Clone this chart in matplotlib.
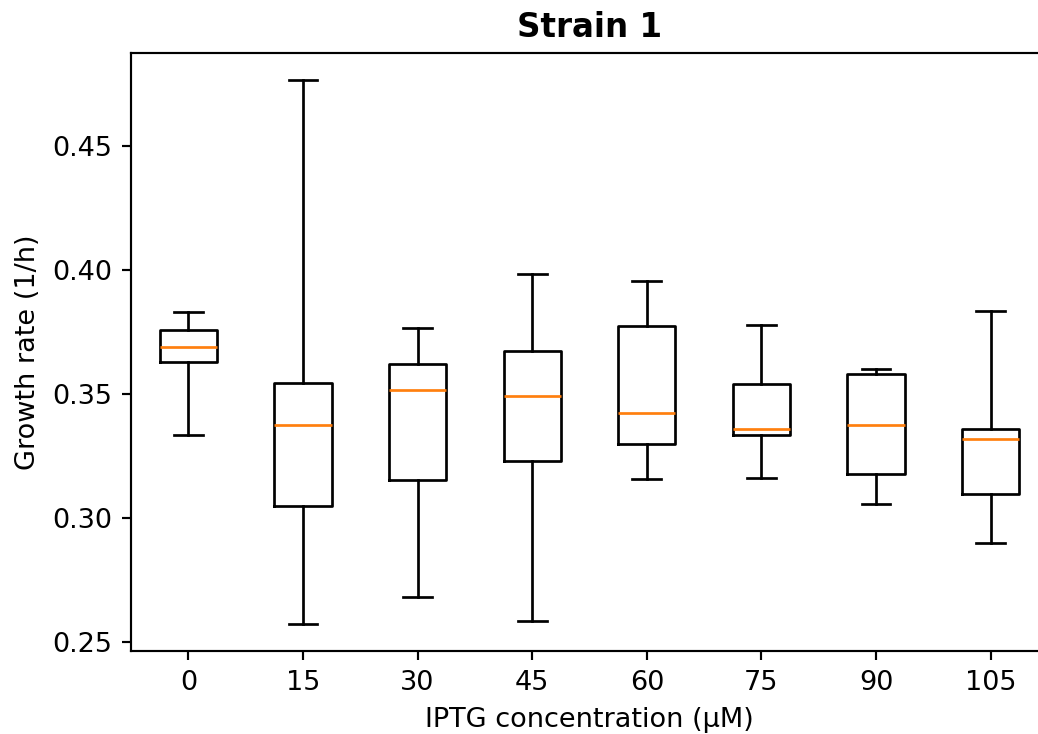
import matplotlib

matplotlib.use("Agg")
import matplotlib.pyplot as plt

# IPTG concentrations (uM) and box statistics
iptg = [0, 15, 30, 45, 60, 75, 90, 105]
whislo = [0.3334, 0.2573, 0.2682, 0.2585, 0.3156, 0.3160, 0.3055, 0.2901]
q1 = [0.3630, 0.3049, 0.3152, 0.3229, 0.3298, 0.3334, 0.3178, 0.3095]
med = [0.3690, 0.3376, 0.3516, 0.3494, 0.3423, 0.3358, 0.3374, 0.3318]
q3 = [0.3759, 0.3545, 0.3620, 0.3674, 0.3773, 0.3540, 0.3581, 0.3358]
whishi = [0.3830, 0.4767, 0.3767, 0.3984, 0.3957, 0.3779, 0.3600, 0.3836]

stats = []
for i, c in enumerate(iptg):
    stats.append({
        "label": str(c),
        "whislo": whislo[i],
        "q1": q1[i],
        "med": med[i],
        "q3": q3[i],
        "whishi": whishi[i],
        "fliers": [],
    })

DPI = 195
fig = plt.figure(figsize=(1038 / DPI, 734 / DPI), dpi=DPI)
ax = fig.add_axes([131 / 1038, 83 / 734, 917 / 1038, 598 / 734])
ax.bxp(stats, showfliers=False)
ax.set_title("Strain 1", fontweight="bold")
ax.set_xlabel("IPTG concentration (µM)")
ax.set_ylabel("Growth rate (1/h)")

fig.savefig("out.png", dpi=DPI)
plt.close(fig)
